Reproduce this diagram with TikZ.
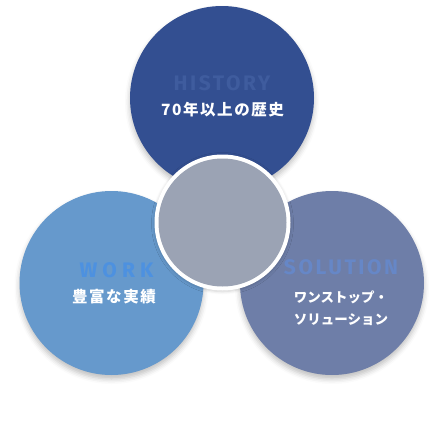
\documentclass[tikz,border=0pt]{standalone}
\usepackage{fontspec}
\setmainfont{Fira Sans}
\newfontfamily\cjk{Noto Sans CJK JP}
\newfontfamily\cjkwide[LetterSpace=10]{Noto Sans CJK JP}
\newfontfamily\enfont[LetterSpace=12]{Fira Sans}
\newfontfamily\enwide[LetterSpace=24]{Fira Sans}
\usetikzlibrary{shadows.blur}
\definecolor{histc}{HTML}{334F91}
\definecolor{histt}{HTML}{3F5C9E}
\definecolor{workc}{HTML}{6699CC}
\definecolor{workt}{HTML}{4D91E0}
\definecolor{solc}{HTML}{6E7EA8}
\definecolor{solt}{HTML}{6687C7}
\definecolor{midc}{HTML}{9BA3B4}
\tikzset{
  bigc/.style={circle, minimum size=184pt, inner sep=0pt, blur shadow={shadow xshift=0pt, shadow yshift=-4pt, shadow blur radius=5pt, shadow opacity=25}},
  entxt/.style={font=\enfont\bfseries\fontsize{21}{21}\selectfont, inner sep=0pt},
  jptxt/.style={font=\cjk\bfseries\fontsize{13.5}{21.5}\selectfont, text=white, inner sep=0pt, align=center},
  jpbig/.style={font=\cjkwide\bfseries\fontsize{15.5}{21}\selectfont, text=white, inner sep=0pt, align=center}
}
\begin{document}
\begin{tikzpicture}[x=1pt,y=-1pt]
\useasboundingbox (0,0) rectangle (445,445);
\node[bigc, fill=histc] (hist) at (222,98) {};
\node[bigc, fill=workc] (work) at (111.5,283) {};
\node[bigc, fill=solc] (sol) at (332,283) {};
\node[circle, fill=white, minimum size=136pt, inner sep=0pt, blur shadow={shadow xshift=0pt, shadow yshift=-1pt, shadow blur radius=3pt, shadow opacity=20}] (ring) at (222.5,222.5) {};
\node[circle, fill=midc, minimum size=128pt, inner sep=0pt] (mid) at (222.5,222.5) {};
\node[entxt, text=histt] (histen) at (222,83) {HISTORY};
\node[jpbig] (histjp) at (222.5,110) {70年以上の歴史};
\node[entxt, font=\enwide\bfseries\fontsize{21}{21}\selectfont, text=workt] (worken) at (116.5,270) {WORK};
\node[jpbig] (workjp) at (114,297) {豊富な実績};
\node[entxt, text=solt] (solen) at (341,267) {SOLUTION};
\node[jptxt] (soljp) at (341,308) {ワンストップ・\\ソリューション};
\end{tikzpicture}
\end{document}
